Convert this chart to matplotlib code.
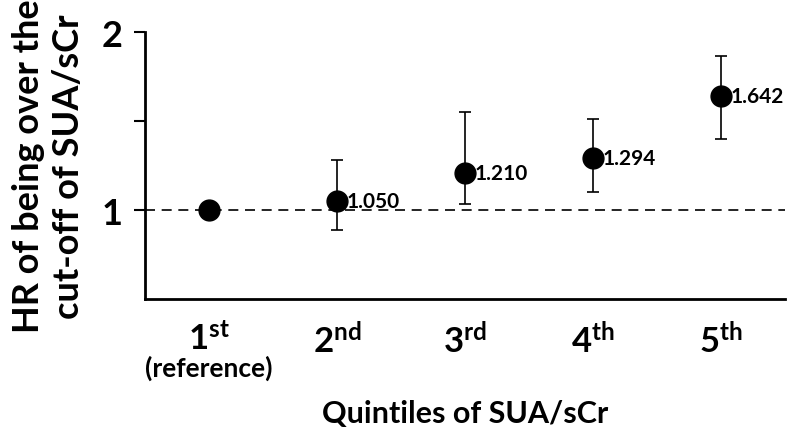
import matplotlib
matplotlib.use("Agg")
import matplotlib.pyplot as plt

plt.rcParams['font.family'] = ['Lato', 'DejaVu Sans']
plt.rcParams['font.weight'] = 'bold'
plt.rcParams['mathtext.fontset'] = 'custom'
plt.rcParams['mathtext.rm'] = 'Lato:bold'
plt.rcParams['mathtext.bf'] = 'Lato:bold'
plt.rcParams['mathtext.it'] = 'Lato:bold'

quintiles = [1, 2, 3, 4, 5]
tick_labels = [r"$1^{\mathrm{st}}$", r"$2^{\mathrm{nd}}$", r"$3^{\mathrm{rd}}$",
               r"$4^{\mathrm{th}}$", r"$5^{\mathrm{th}}$"]
hr = [1.000, 1.050, 1.210, 1.294, 1.642]
ci_low = [1.000, 0.888, 1.034, 1.100, 1.400]
ci_high = [1.000, 1.283, 1.553, 1.514, 1.864]
value_labels = ["", "1.050", "1.210", "1.294", "1.642"]

fig = plt.figure(figsize=(8, 4.35), dpi=100)
ax = fig.add_axes([0.181, 0.310, 0.800, 0.614])

ax.axhline(1.0, color='black', lw=1.2, ls=(0, (6, 4)), zorder=1)

yerr = [[h - l for h, l in zip(hr, ci_low)], [u - h for h, u in zip(hr, ci_high)]]
ax.errorbar(quintiles[1:], hr[1:], yerr=[yerr[0][1:], yerr[1][1:]], fmt='none',
            ecolor='black', elinewidth=1.2, capsize=4.5, capthick=1.2, zorder=2)
ax.plot(quintiles, hr, 'o', color='black', ms=15, ls='none', zorder=3)

for x, y, t in zip(quintiles, hr, value_labels):
    if t:
        ax.annotate(t, (x, y), xytext=(7, 0), textcoords='offset points',
                    ha='left', va='center', fontsize=15, fontweight='bold')

ax.set_xlim(0.5, 5.5)
ax.set_ylim(0.5, 2.0)
ax.set_yticks([1, 2])
ax.set_yticklabels(['1', '2'], fontsize=26, fontweight='bold')
ax.set_yticks([1.5], minor=True)
ax.tick_params(axis='y', which='both', direction='out', length=8, width=1.5, pad=8)
ax.set_xticks(quintiles)
ax.set_xticklabels(tick_labels, fontsize=25)
ax.tick_params(axis='x', length=0, pad=16)

ax.text(1, -0.255, "(reference)", transform=ax.get_xaxis_transform(),
        ha='center', va='center', fontsize=19, fontweight='bold')

for s in ['top', 'right']:
    ax.spines[s].set_visible(False)
for s in ['left', 'bottom']:
    ax.spines[s].set_linewidth(2)

ax.set_xlabel("Quintiles of SUA/sCr", fontsize=22, fontweight='bold', labelpad=30)
ax.set_ylabel("HR of being over the\ncut-off of SUA/sCr", fontsize=26,
              fontweight='bold', labelpad=12, linespacing=1.25)

fig.savefig("out.png", dpi=100)
